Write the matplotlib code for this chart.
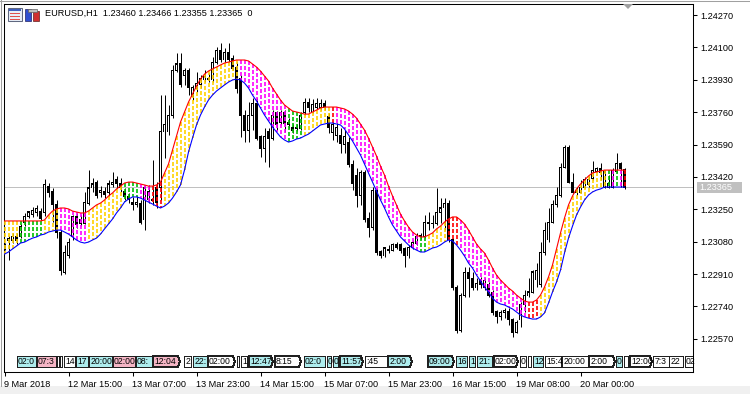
import numpy as np
import matplotlib
matplotlib.use("Agg")
import matplotlib.pyplot as plt
from matplotlib.patches import Rectangle, Polygon
import matplotlib.transforms as mtransforms

plt.rcParams['font.family'] = ['Liberation Sans', 'DejaVu Sans']

# ---------------- data (EURUSD H1) ----------------
open_ = [
1.23052, 1.23084, 1.23084, 1.23105, 1.23105, 1.23183, 1.23210, 1.23225, 1.23231, 1.23236,
1.23231, 1.23372, 1.23341, 1.23273, 1.23126, 1.22921, 1.23010, 1.23105, 1.23210, 1.23178,
1.23178, 1.23283, 1.23362, 1.23393, 1.23336, 1.23346, 1.23336, 1.23378, 1.23404, 1.23383,
1.23341, 1.23315, 1.23288, 1.23273, 1.23283, 1.23194, 1.23299, 1.23294, 1.23367, 1.23367,
1.23656, 1.23656, 1.23745, 1.23981, 1.24013, 1.23955, 1.23981, 1.23840, 1.23887, 1.23903,
1.23929, 1.23939, 1.23929, 1.24023, 1.24086, 1.24034, 1.24071, 1.24044, 1.23992, 1.23939,
1.23745, 1.23666, 1.23745, 1.23808, 1.23630, 1.23572, 1.23656, 1.23624, 1.23756, 1.23708,
1.23756, 1.23708, 1.23677, 1.23677, 1.23677, 1.23756, 1.23813, 1.23761, 1.23787, 1.23787,
1.23808, 1.23735, 1.23651, 1.23640, 1.23640, 1.23588, 1.23603, 1.23483, 1.23430, 1.23325,
1.23441, 1.23204, 1.23157, 1.23351, 1.23026, 1.23005, 1.23036, 1.23036, 1.23063, 1.23063,
1.23042, 1.23005, 1.23052, 1.23073, 1.23115, 1.23105, 1.23178, 1.23178, 1.23178, 1.23231,
1.23257, 1.23283, 1.23089, 1.22842, 1.22616, 1.22800, 1.22916, 1.22889, 1.22837, 1.22879,
1.22842, 1.22853, 1.22811, 1.22711, 1.22685, 1.22706, 1.22716, 1.22669, 1.22606, 1.22669,
1.22748, 1.22795, 1.22816, 1.22879, 1.22853, 1.23021, 1.23089, 1.23183, 1.23273, 1.23325,
1.23472, 1.23577, 1.23393, 1.23351, 1.23341, 1.23367, 1.23378, 1.23414, 1.23451, 1.23462,
1.23367, 1.23367, 1.23367, 1.23451, 1.23493, 1.23460]

high = [
1.23073, 1.23110, 1.23126, 1.23126, 1.23173, 1.23231, 1.23241, 1.23262, 1.23273, 1.23257,
1.23409, 1.23388, 1.23362, 1.23299, 1.23141, 1.23063, 1.23099, 1.23220, 1.23231, 1.23220,
1.23341, 1.23456, 1.23414, 1.23404, 1.23372, 1.23367, 1.23404, 1.23446, 1.23425, 1.23414,
1.23362, 1.23336, 1.23315, 1.23320, 1.23299, 1.23372, 1.23378, 1.23509, 1.23393, 1.23850,
1.23850, 1.23798, 1.24008, 1.24071, 1.24071, 1.23992, 1.23992, 1.23903, 1.23971, 1.23955,
1.23981, 1.23966, 1.24050, 1.24102, 1.24123, 1.24097, 1.24123, 1.24060, 1.24023, 1.23955,
1.23771, 1.23813, 1.23834, 1.23834, 1.23640, 1.23677, 1.23677, 1.23771, 1.23766, 1.23771,
1.23771, 1.23729, 1.23698, 1.23698, 1.23761, 1.23834, 1.23834, 1.23829, 1.23834, 1.23829,
1.23824, 1.23756, 1.23708, 1.23703, 1.23677, 1.23666, 1.23630, 1.23509, 1.23467, 1.23456,
1.23456, 1.23236, 1.23367, 1.23362, 1.23036, 1.23052, 1.23063, 1.23073, 1.23078, 1.23073,
1.23052, 1.23063, 1.23089, 1.23126, 1.23126, 1.23220, 1.23236, 1.23220, 1.23362, 1.23309,
1.23309, 1.23299, 1.23099, 1.22853, 1.22811, 1.22947, 1.22947, 1.22921, 1.22889, 1.22895,
1.22889, 1.22868, 1.22826, 1.22721, 1.22721, 1.22732, 1.22732, 1.22679, 1.22669, 1.22763,
1.22826, 1.22889, 1.22931, 1.22968, 1.23078, 1.23183, 1.23257, 1.23299, 1.23367, 1.23493,
1.23588, 1.23588, 1.23441, 1.23367, 1.23404, 1.23420, 1.23425, 1.23504, 1.23472, 1.23493,
1.23456, 1.23430, 1.23467, 1.23546, 1.23498, 1.23466]

low = [
1.23036, 1.22984, 1.23073, 1.23068, 1.23099, 1.23162, 1.23204, 1.23210, 1.23215, 1.23194,
1.23215, 1.23315, 1.23183, 1.23099, 1.22905, 1.22910, 1.22994, 1.23089, 1.23152, 1.23162,
1.23173, 1.23273, 1.23341, 1.23309, 1.23315, 1.23309, 1.23320, 1.23367, 1.23362, 1.23341,
1.23299, 1.23283, 1.23246, 1.23262, 1.23173, 1.23141, 1.23283, 1.23273, 1.23257, 1.23299,
1.23519, 1.23640, 1.23729, 1.23971, 1.23892, 1.23903, 1.23850, 1.23824, 1.23866, 1.23887,
1.23918, 1.23918, 1.23918, 1.24013, 1.24023, 1.24023, 1.24023, 1.23981, 1.23861, 1.23630,
1.23603, 1.23603, 1.23666, 1.23614, 1.23525, 1.23498, 1.23472, 1.23614, 1.23666, 1.23693,
1.23656, 1.23677, 1.23651, 1.23661, 1.23666, 1.23745, 1.23761, 1.23756, 1.23777, 1.23771,
1.23771, 1.23651, 1.23614, 1.23603, 1.23546, 1.23546, 1.23472, 1.23351, 1.23262, 1.23273,
1.23183, 1.23105, 1.23141, 1.23010, 1.22994, 1.23000, 1.23021, 1.23031, 1.23042, 1.23021,
1.22947, 1.22994, 1.23042, 1.23063, 1.23094, 1.23099, 1.23141, 1.23152, 1.23168, 1.23178,
1.23141, 1.23078, 1.22826, 1.22601, 1.22606, 1.22790, 1.22790, 1.22826, 1.22826, 1.22837,
1.22826, 1.22790, 1.22695, 1.22653, 1.22669, 1.22679, 1.22643, 1.22580, 1.22601, 1.22632,
1.22711, 1.22790, 1.22811, 1.22842, 1.22842, 1.23010, 1.23078, 1.23178, 1.23262, 1.23315,
1.23467, 1.23388, 1.23336, 1.23325, 1.23336, 1.23362, 1.23367, 1.23404, 1.23446, 1.23404,
1.23362, 1.23362, 1.23362, 1.23441, 1.23367, 1.23355]

close = [
1.23057, 1.23099, 1.23105, 1.23084, 1.23162, 1.23210, 1.23236, 1.23246, 1.23252, 1.23204,
1.23378, 1.23336, 1.23273, 1.23126, 1.22931, 1.23021, 1.23078, 1.23210, 1.23168, 1.23194,
1.23288, 1.23362, 1.23383, 1.23325, 1.23351, 1.23330, 1.23383, 1.23393, 1.23383, 1.23362,
1.23315, 1.23299, 1.23273, 1.23288, 1.23183, 1.23362, 1.23341, 1.23304, 1.23288, 1.23656,
1.23693, 1.23745, 1.23981, 1.24013, 1.23903, 1.23981, 1.23892, 1.23892, 1.23913, 1.23939,
1.23945, 1.23934, 1.24023, 1.24086, 1.24034, 1.24071, 1.24034, 1.23992, 1.23887, 1.23745,
1.23666, 1.23745, 1.23808, 1.23624, 1.23572, 1.23630, 1.23624, 1.23745, 1.23693, 1.23756,
1.23703, 1.23693, 1.23666, 1.23682, 1.23745, 1.23813, 1.23787, 1.23798, 1.23808, 1.23808,
1.23787, 1.23682, 1.23693, 1.23682, 1.23598, 1.23630, 1.23483, 1.23388, 1.23325, 1.23441,
1.23194, 1.23157, 1.23351, 1.23021, 1.23005, 1.23047, 1.23038, 1.23063, 1.23052, 1.23036,
1.23005, 1.23052, 1.23078, 1.23105, 1.23105, 1.23183, 1.23183, 1.23173, 1.23231, 1.23257,
1.23283, 1.23089, 1.22842, 1.22616, 1.22800, 1.22916, 1.22889, 1.22837, 1.22863, 1.22853,
1.22874, 1.22800, 1.22706, 1.22685, 1.22706, 1.22721, 1.22669, 1.22606, 1.22658, 1.22748,
1.22800, 1.22816, 1.22921, 1.22931, 1.23021, 1.23141, 1.23183, 1.23273, 1.23325, 1.23472,
1.23577, 1.23393, 1.23341, 1.23341, 1.23367, 1.23404, 1.23409, 1.23456, 1.23462, 1.23441,
1.23446, 1.23388, 1.23456, 1.23488, 1.23462, 1.23365]

upper_band = [
1.23189, 1.23189, 1.23189, 1.23189, 1.23189, 1.23189, 1.23189, 1.23189, 1.23189, 1.23189,
1.23194, 1.23220, 1.23241, 1.23252, 1.23257, 1.23257, 1.23252, 1.23241, 1.23236, 1.23231,
1.23231, 1.23241, 1.23257, 1.23273, 1.23283, 1.23299, 1.23320, 1.23336, 1.23357, 1.23372,
1.23388, 1.23393, 1.23393, 1.23388, 1.23383, 1.23378, 1.23372, 1.23372, 1.23378, 1.23393,
1.23441, 1.23488, 1.23561, 1.23635, 1.23708, 1.23761, 1.23813, 1.23855, 1.23897, 1.23934,
1.23960, 1.23976, 1.23987, 1.23997, 1.24008, 1.24018, 1.24023, 1.24029, 1.24034, 1.24034,
1.24034, 1.24029, 1.24013, 1.23997, 1.23976, 1.23950, 1.23924, 1.23887, 1.23855, 1.23824,
1.23798, 1.23782, 1.23766, 1.23761, 1.23756, 1.23750, 1.23750, 1.23761, 1.23771, 1.23782,
1.23787, 1.23787, 1.23787, 1.23787, 1.23782, 1.23777, 1.23766, 1.23750, 1.23729, 1.23698,
1.23666, 1.23624, 1.23577, 1.23530, 1.23477, 1.23430, 1.23372, 1.23320, 1.23273, 1.23225,
1.23189, 1.23157, 1.23131, 1.23115, 1.23105, 1.23105, 1.23115, 1.23126, 1.23147, 1.23162,
1.23183, 1.23199, 1.23210, 1.23210, 1.23194, 1.23173, 1.23141, 1.23105, 1.23068, 1.23042,
1.23021, 1.22984, 1.22942, 1.22905, 1.22879, 1.22858, 1.22837, 1.22821, 1.22800, 1.22784,
1.22769, 1.22763, 1.22763, 1.22774, 1.22800, 1.22842, 1.22895, 1.22958, 1.23042, 1.23126,
1.23204, 1.23273, 1.23320, 1.23357, 1.23383, 1.23404, 1.23425, 1.23441, 1.23446, 1.23451,
1.23456, 1.23456, 1.23456, 1.23456, 1.23456, 1.23456]

lower_band = [
1.23015, 1.23026, 1.23042, 1.23057, 1.23073, 1.23078, 1.23089, 1.23099, 1.23105, 1.23115,
1.23120, 1.23131, 1.23136, 1.23141, 1.23141, 1.23131, 1.23120, 1.23105, 1.23089, 1.23078,
1.23073, 1.23078, 1.23089, 1.23099, 1.23120, 1.23147, 1.23173, 1.23199, 1.23231, 1.23257,
1.23288, 1.23304, 1.23315, 1.23315, 1.23309, 1.23299, 1.23288, 1.23278, 1.23267, 1.23257,
1.23267, 1.23283, 1.23309, 1.23341, 1.23378, 1.23456, 1.23551, 1.23624, 1.23693, 1.23745,
1.23787, 1.23824, 1.23850, 1.23871, 1.23887, 1.23903, 1.23918, 1.23929, 1.23934, 1.23929,
1.23913, 1.23887, 1.23850, 1.23819, 1.23782, 1.23745, 1.23714, 1.23682, 1.23656, 1.23630,
1.23614, 1.23603, 1.23609, 1.23619, 1.23624, 1.23635, 1.23645, 1.23661, 1.23677, 1.23693,
1.23698, 1.23703, 1.23703, 1.23698, 1.23693, 1.23672, 1.23640, 1.23609, 1.23572, 1.23535,
1.23488, 1.23441, 1.23393, 1.23346, 1.23299, 1.23257, 1.23210, 1.23168, 1.23136, 1.23105,
1.23084, 1.23063, 1.23047, 1.23036, 1.23026, 1.23026, 1.23036, 1.23047, 1.23052, 1.23063,
1.23078, 1.23089, 1.23084, 1.23063, 1.23036, 1.23005, 1.22968, 1.22942, 1.22905, 1.22874,
1.22842, 1.22816, 1.22784, 1.22763, 1.22753, 1.22748, 1.22737, 1.22727, 1.22711, 1.22695,
1.22685, 1.22679, 1.22674, 1.22674, 1.22685, 1.22706, 1.22758, 1.22816, 1.22868, 1.22931,
1.23021, 1.23099, 1.23162, 1.23220, 1.23262, 1.23299, 1.23325, 1.23341, 1.23351, 1.23357,
1.23367, 1.23367, 1.23367, 1.23367, 1.23367, 1.23367]

# cloud state per bar: Y=rising, M=falling, G=flat-up, R=flat-down
cloud_state = ("YYYY" "GGGGGG" "YYYY" "MMMMMMM" "YYYYYYYYY" "GGGG" "MMM" "RRR"
               "YYYYYYYYYYYYYYYYYYY" "MMMMMMMMMMMM" "GGGG" "YYYYYYY" "R"
               "MMMMMMMMMMMMMMMMMMMMM" "GG" "YYYYY" "RRR" "MMMMMMMMMMMMMMMMM" "RRR"
               "YYYYYYYYYYYYYYYYY" "GMGMR")

price_ticks = [1.24270, 1.24100, 1.23930, 1.23760, 1.23590, 1.23420,
               1.23250, 1.23080, 1.22910, 1.22740, 1.22570]
time_tick_bars = [0, 16, 32, 48, 64, 80, 96, 112, 128, 144]
time_tick_labels = ["9 Mar 2018", "12 Mar 15:00", "13 Mar 07:00", "13 Mar 23:00",
                    "14 Mar 15:00", "15 Mar 07:00", "15 Mar 23:00", "16 Mar 15:00",
                    "19 Mar 08:00", "20 Mar 00:00"]
bid_price = 1.23365
header = "EURUSD,H1  1.23460 1.23466 1.23355 1.23365  0"

# session label boxes along the bottom (bar start, bar end, visible text, kind)
session_boxes = [
    (3.1, 7.85, "02:0", "c"), (8.1, 12.85, "07:3", "p"), (13.1, 13.6, "", "w"),
    (13.85, 14.35, "", "w"), (14.85, 17.6, "14", "w"), (17.85, 20.85, "17", "c"),
    (21.1, 26.85, "20:00", "c"), (27.1, 32.6, "02:00", "p"), (32.85, 36.85, "08:", "c"),
    (37.1, 43.85, "12:04", "pa"), (44.85, 46.6, "2", "w"), (47.1, 50.6, "22:", "c"),
    (50.85, 57.6, "02:00", "wa"), (58.1, 58.6, "", "w"), (59.1, 60.6, "1", "w"),
    (61.1, 67.1, "12:47", "ca"), (67.6, 74.1, "8:15", "wa"), (74.85, 80.1, "02:0", "c"),
    (80.6, 81.6, "0", "c"), (82.1, 83.35, "0", "c"), (83.85, 89.6, "11:57", "ca"),
    (90.1, 95.6, ":45", "w"), (95.85, 101.85, "2:00", "ca"), (105.85, 112.35, "09:00", "ca"),
    (112.85, 115.6, "16", "c"), (116.1, 117.6, "1", "c"), (118.1, 121.85, "21:", "c"),
    (122.35, 128.35, "02:00", "wa"), (128.85, 130.35, "0", "w"), (130.85, 131.6, "", "w"),
    (132.1, 134.6, "12", "c"), (135.1, 139.1, "15:4", "w"), (139.35, 145.85, "20:00", "w"),
    (146.1, 152.6, "2:00", "wa"), (152.85, 154.35, "0", "c"), (154.85, 155.85, "", "w"),
    (156.35, 161.85, "12:00", "wa"), (162.1, 166.1, "7:3", "w"), (166.1, 169.6, "22", "w"),
    (170.1, 172.6, "02", "w"),
]

# ---------------- drawing ----------------
W, H = 750, 394
fig = plt.figure(figsize=(W / 100, H / 100), dpi=100)
fig.patch.set_facecolor('white')
FS = 6.6


def fpx(x, y):
    return (x / W, 1 - y / H)


YMIN, YMAX = 1.22396, 1.24328
ax = fig.add_axes([4 / W, 22 / H, 689 / W, 368 / H])
ax.set_facecolor('white')
ax.set_xlim(-0.125, 172.125)
ax.set_ylim(YMIN, YMAX)
px_y = (YMAX - YMIN) / 368.0

o = np.array(open_); h = np.array(high); l = np.array(low); c = np.array(close)
n = len(c)
xs = np.arange(n)

ax.axhline(bid_price, color='#C0C0C0', lw=0.72, zorder=1)

# candles
ax.vlines(xs, l, h, colors='black', linewidth=0.72, zorder=2)
b_lo = np.minimum(o, c); b_hi = np.maximum(o, c)
ax.bar(xs, b_hi - b_lo + px_y, bottom=b_lo - px_y / 2, width=0.75, color='black',
       linewidth=0, antialiased=False, zorder=3)
bull = (c > o) & ((b_hi - b_lo) > 1.5 * px_y)
ax.bar(xs[bull], (b_hi - b_lo)[bull] - px_y, bottom=b_lo[bull] + px_y / 2, width=0.25,
       color='white', linewidth=0, antialiased=False, zorder=3.1)

# cloud (dotted histogram between the two bands)
state_colors = {"Y": "#FFD200", "M": "#FF00FF", "G": "#00C000", "R": "#FF0000"}
up_b = np.array(upper_band); lo_b = np.array(lower_band)
for i in range(n):
    ax.plot([xs[i], xs[i]], [up_b[i], lo_b[i]], color=state_colors[cloud_state[i]],
            linewidth=1.2, dashes=(2.4, 1.2), dash_capstyle='butt', zorder=4)

ax.plot(xs, up_b, color='#FF0000', lw=0.8, zorder=5)
ax.plot(xs, lo_b, color='#0000FF', lw=0.8, zorder=5)

for sp in ax.spines.values():
    sp.set_color('black')
    sp.set_linewidth(0.75)

ax.yaxis.tick_right()
ax.set_yticks(price_ticks)
ax.set_yticklabels(["%.5f" % p for p in price_ticks])
ax.tick_params(axis='y', direction='out', length=3, width=0.75, pad=2,
               labelsize=FS, colors='black')
ax.set_xticks(time_tick_bars)
ax.set_xticklabels(time_tick_labels)
ax.tick_params(axis='x', direction='out', length=3, width=0.75, pad=3,
               labelsize=FS, colors='black')
for lbl in ax.get_xticklabels():
    lbl.set_ha('left')

# session boxes
trans = mtransforms.blended_transform_factory(ax.transData, ax.transAxes)
yb, yt = 5 / 368, 16 / 368
ym = (yb + yt) / 2
box_fill = {"c": "#AEEDEE", "p": "#F5B5C5", "w": "#FFFFFF"}
for x0, x1, txt, kind in session_boxes:
    fill = box_fill[kind[0]]
    if kind.endswith("a"):
        pts = [(x0, yb), (x1 - 0.5, yb), (x1, ym), (x1 - 0.5, yt), (x0, yt)]
    else:
        pts = [(x0, yb), (x1, yb), (x1, yt), (x0, yt)]
    poly = Polygon(pts, closed=True, facecolor=fill, edgecolor='#202020',
                   lw=0.72, transform=trans, zorder=6, antialiased=False)
    ax.add_patch(poly)
    if txt:
        t = ax.text(x0 + 0.3, ym, txt, transform=trans, fontsize=6.2,
                    va='center', ha='left', color='black', zorder=7)
        t.set_clip_path(poly)

# bid label on price scale
fig.patches.append(Rectangle(fpx(697, 193), 45 / W, 11 / H, transform=fig.transFigure,
                             facecolor='#C0C0C0', edgecolor='none'))
fig.text(*fpx(699, 187.5), "%.5f" % bid_price, color='white', fontsize=FS,
         va='center', ha='left')

# chart shift marker
fig.patches.append(Polygon([fpx(623, 4), fpx(633, 4), fpx(628, 9)], closed=True,
                           transform=fig.transFigure, facecolor='#A0A0A0',
                           edgecolor='none'))

# header icons and text
fig.patches.append(Rectangle(fpx(8, 21), 14 / W, 13 / H, transform=fig.transFigure,
                             facecolor='#E8EEF8', edgecolor='#606880', lw=0.75))
fig.patches.append(Rectangle(fpx(9, 11), 12 / W, 2 / H, transform=fig.transFigure,
                             facecolor='#4060C0', edgecolor='none'))
for yy in (13, 16, 19):
    fig.patches.append(Rectangle(fpx(10, yy + 1), 10 / W, 1.2 / H, transform=fig.transFigure,
                                 facecolor='#E05050', edgecolor='none'))
fig.patches.append(Rectangle(fpx(25, 21), 6 / W, 12 / H, transform=fig.transFigure,
                             facecolor='#3050D0', edgecolor='#202060', lw=0.5))
fig.patches.append(Rectangle(fpx(33, 21), 6 / W, 10 / H, transform=fig.transFigure,
                             facecolor='#D03030', edgecolor='#602020', lw=0.5))
fig.patches.append(Rectangle(fpx(28, 12), 9 / W, 3 / H, transform=fig.transFigure,
                             facecolor='#C0C0C0', edgecolor='#606060', lw=0.5))
fig.text(*fpx(45, 13.5), header, fontsize=FS, va='center', ha='left', color='black')

# window border / bottom strip
fig.patches.append(Rectangle((0, 0), 1, 8 / H, transform=fig.transFigure,
                             facecolor='#F0F0F0', edgecolor='none', zorder=-1))
fig.lines.append(plt.Line2D([0.5 / W, 0.5 / W], [8 / H, 1], transform=fig.transFigure,
                            color='#A0A0A0', lw=0.75))
fig.lines.append(plt.Line2D([0, 1], [1 - 0.5 / H, 1 - 0.5 / H], transform=fig.transFigure,
                            color='#A0A0A0', lw=0.75))

fig.savefig("out.png", dpi=100, facecolor=fig.get_facecolor())
